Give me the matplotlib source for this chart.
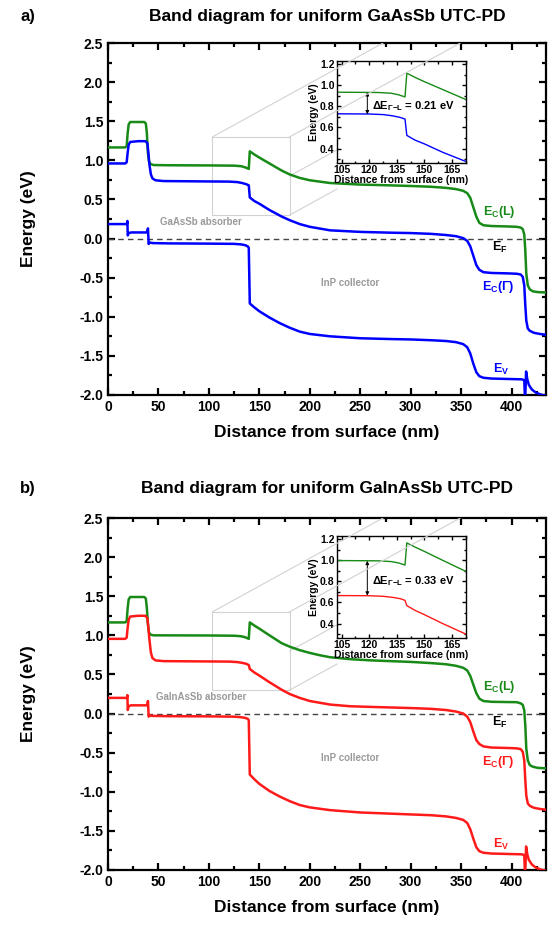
import matplotlib
matplotlib.use('Agg')
import matplotlib.pyplot as plt
from matplotlib.ticker import MultipleLocator

plt.rcParams['font.family'] = ['Liberation Sans', 'DejaVu Sans']
plt.rcParams['font.weight'] = 'bold'
plt.rcParams['mathtext.fontset'] = 'custom'
plt.rcParams['mathtext.rm'] = 'Liberation Sans:bold'
plt.rcParams['mathtext.it'] = 'Liberation Sans:bold'
plt.rcParams['mathtext.bf'] = 'Liberation Sans:bold'

# ---------------- panel a: GaAsSb ----------------
a_ecl_x = [0, 17, 18.5, 19.5, 20.5, 22, 36, 37.5, 38.5, 39.5, 40.5, 42, 45, 60, 100, 125, 132, 136, 139.5,
           140.5, 145, 150, 160, 172, 180, 190, 200, 220, 250, 280, 300, 320, 335, 345, 352, 356, 359, 362,
           365, 368, 372, 380, 395, 405, 409, 411, 412.5, 413.5, 414.5, 416, 418, 421, 426, 434]
a_ecl_e = [1.165, 1.165, 1.18, 1.35, 1.46, 1.49, 1.49, 1.47, 1.35, 1.1, 0.99, 0.955, 0.94, 0.937, 0.935, 0.932,
           0.925, 0.91, 0.89, 1.115, 1.075, 1.035, 0.96, 0.87, 0.82, 0.775, 0.745, 0.71, 0.69, 0.68, 0.672,
           0.662, 0.648, 0.632, 0.61, 0.58, 0.52, 0.40, 0.28, 0.20, 0.17, 0.16, 0.155, 0.15, 0.14, 0.12, 0.05,
           -0.15, -0.45, -0.6, -0.65, -0.675, -0.685, -0.69]

a_ecg_x = [0, 17, 18.5, 19.5, 20.5, 22, 30, 37, 39, 40, 41, 42.5, 44, 47, 55, 100, 120, 128, 133, 137, 139.5,
           140.5, 145, 150, 160, 172, 180, 190, 200, 220, 250, 280, 300, 320, 335, 345, 352, 356, 359, 362,
           365, 368, 372, 380, 395, 405, 409, 411, 412.5, 413.5, 414.5, 416, 418, 422, 428, 434]
a_ecg_e = [0.96, 0.96, 0.975, 1.1, 1.2, 1.235, 1.245, 1.245, 1.22, 1.1, 0.95, 0.82, 0.77, 0.745, 0.735, 0.73,
           0.728, 0.722, 0.71, 0.695, 0.68, 0.525, 0.48, 0.445, 0.365, 0.282, 0.235, 0.185, 0.15, 0.105, 0.085,
           0.075, 0.07, 0.06, 0.045, 0.03, 0.005, -0.03, -0.1, -0.22, -0.34, -0.40, -0.43, -0.44, -0.445,
           -0.45, -0.46, -0.49, -0.6, -0.85, -1.05, -1.15, -1.18, -1.205, -1.22, -1.23]

a_ev_x = [0, 18.8, 19.2, 19.6, 20.5, 23, 38.8, 39.6, 40.3, 41, 44, 60, 100, 125, 132, 136, 138.5, 139.5,
          140.5, 145, 150, 160, 170, 180, 190, 200, 220, 250, 280, 300, 320, 335, 345, 352, 356, 359, 362,
          365, 368, 372, 380, 395, 410, 412.5, 413.3, 414.3, 415.5, 417, 420, 424, 430, 434]
a_ev_e = [0.185, 0.185, 0.225, 0.04, 0.07, 0.078, 0.078, 0.13, -0.07, -0.05, -0.058, -0.062, -0.065, -0.068,
          -0.075, -0.085, -0.1, -0.12, -0.83, -0.88, -0.93, -1.01, -1.08, -1.14, -1.19, -1.22, -1.25, -1.275,
          -1.285, -1.29, -1.30, -1.31, -1.325, -1.35, -1.39, -1.47, -1.6, -1.71, -1.76, -1.78, -1.79, -1.795,
          -1.80, -1.81, -2.1, -1.70, -1.80, -1.87, -1.93, -1.97, -2.0, -2.01]

# ---------------- panel b: GaInAsSb ----------------
b_ecl_x = [0, 17, 18.5, 19.5, 20.5, 22, 36, 37.5, 38.5, 39.5, 40.5, 42, 45, 100, 125, 132, 136, 139.5,
           140.5, 145, 150, 160, 172, 180, 190, 200, 210, 220, 240, 260, 300, 320, 335, 345, 352, 356, 359,
           362, 365, 368, 372, 380, 405, 409, 411, 412.5, 413.5, 414.5, 416, 418, 421, 426, 434]
b_ecl_e = [1.165, 1.165, 1.18, 1.35, 1.46, 1.49, 1.49, 1.47, 1.35, 1.15, 1.04, 1.01, 1.0, 0.998, 0.995, 0.988,
           0.975, 0.955, 1.165, 1.125, 1.085, 1.0, 0.9, 0.855, 0.81, 0.775, 0.745, 0.72, 0.695, 0.68, 0.66,
           0.645, 0.63, 0.61, 0.585, 0.55, 0.48, 0.37, 0.26, 0.19, 0.16, 0.15, 0.145, 0.13, 0.11, 0.04, -0.15,
           -0.45, -0.6, -0.66, -0.68, -0.695, -0.70]

b_ecg_x = [0, 17, 18.5, 19.5, 20.5, 22, 30, 37, 39, 40, 41, 42.5, 44, 47, 55, 100, 120, 128, 133, 137, 139.5,
           140.5, 145, 150, 160, 172, 180, 190, 200, 220, 240, 260, 300, 320, 335, 345, 352, 356, 359, 362,
           365, 368, 372, 380, 395, 405, 409, 411, 412.5, 413.5, 414.5, 416, 418, 422, 428, 434]
b_ecg_e = [0.955, 0.955, 0.97, 1.1, 1.2, 1.24, 1.25, 1.25, 1.22, 1.1, 0.95, 0.78, 0.71, 0.68, 0.67, 0.666,
           0.664, 0.658, 0.648, 0.636, 0.62, 0.57, 0.525, 0.485, 0.40, 0.305, 0.25, 0.20, 0.16, 0.115, 0.093,
           0.085, 0.07, 0.06, 0.045, 0.025, 0.0, -0.04, -0.11, -0.23, -0.34, -0.39, -0.42, -0.435, -0.44,
           -0.445, -0.455, -0.49, -0.6, -0.85, -1.05, -1.15, -1.18, -1.205, -1.22, -1.23]

b_ev_x = [0, 18.8, 19.2, 19.6, 20.5, 23, 38.8, 39.6, 40.3, 41, 44, 60, 100, 125, 132, 136, 138.5, 139.5,
          140.5, 145, 150, 160, 170, 180, 190, 200, 220, 250, 280, 300, 320, 335, 345, 352, 356, 359, 362,
          365, 368, 372, 380, 395, 410, 412.5, 413.3, 414.3, 415.5, 417, 420, 424, 430, 434]
b_ev_e = [0.20, 0.20, 0.235, 0.045, 0.095, 0.105, 0.105, 0.16, -0.04, -0.025, -0.03, -0.034, -0.036, -0.04,
          -0.047, -0.056, -0.068, -0.085, -0.78, -0.84, -0.90, -0.99, -1.06, -1.12, -1.17, -1.20, -1.235,
          -1.265, -1.28, -1.29, -1.30, -1.315, -1.335, -1.36, -1.40, -1.48, -1.6, -1.71, -1.76, -1.78, -1.79,
          -1.795, -1.80, -1.81, -2.1, -1.70, -1.80, -1.87, -1.93, -1.97, -2.0, -2.01]

titles = ['Band diagram for uniform GaAsSb UTC-PD', 'Band diagram for uniform GaInAsSb UTC-PD']
panel_tags = ['a)', 'b)']
absorbers = ['GaAsSb absorber', 'GaInAsSb absorber']
gaps = ['0.21', '0.33']
gap_ends = [(0.725, 0.935), (0.665, 0.995)]

GREEN = '#178a17'
fig = plt.figure(figsize=(5.59, 9.25), dpi=100)


def style_axes(ax, size, major_len, minor_len, width):
    ax.tick_params(which='both', direction='in', top=True, right=True, labelsize=size, width=width)
    ax.tick_params(which='major', length=major_len)
    ax.tick_params(which='minor', length=minor_len)
    for s in ax.spines.values():
        s.set_linewidth(width)


def draw_panel(ax, ecl, ecg, ev, gcol, title, tag, absorber, gap, gend, ytop):
    ax.plot(*ecl, color=GREEN, lw=1.8, zorder=3)
    ax.plot(*ecg, color=gcol, lw=1.8, zorder=3)
    ax.plot(*ev, color=gcol, lw=1.8, zorder=3)
    ax.axhline(0, color='#444444', lw=1.0, ls=(0, (4, 3)), zorder=2)
    ax.set_xlim(0, 434)
    ax.set_ylim(-2.0, 2.5)
    ax.xaxis.set_major_locator(MultipleLocator(50))
    ax.xaxis.set_minor_locator(MultipleLocator(25))
    ax.yaxis.set_major_locator(MultipleLocator(0.5))
    ax.yaxis.set_minor_locator(MultipleLocator(0.25))
    ax.yaxis.set_major_formatter(lambda v, p: f'{v:.1f}')
    style_axes(ax, 10, 5, 3, 1.6)
    ax.set_xlabel('Distance from surface (nm)', fontsize=12.5, fontweight='bold')
    ax.set_ylabel('Energy (eV)', fontsize=12.5, fontweight='bold')
    ax.xaxis.set_label_coords(0.5, -0.085)
    ax.yaxis.set_label_coords(-0.165, 0.5)
    fig.text(0.585, ytop, title, ha='center', va='center', fontsize=12.5, fontweight='bold')
    fig.text(0.036, ytop, tag, ha='left', va='center', fontsize=12, fontweight='bold')

    # band labels
    ax.text(388, 0.34, r'E$_\mathrm{C}$(L)', color=GREEN, fontsize=9, ha='center', va='center')
    ax.text(388, -0.11, r'E$_\mathrm{F}$', color='black', fontsize=9, ha='center', va='center')
    ax.text(387, -0.62, r'E$_\mathrm{C}$($\Gamma$)', color=gcol, fontsize=9, ha='center', va='center')
    ax.text(390, -1.67, r'E$_\mathrm{V}$', color=gcol, fontsize=9, ha='center', va='center')
    ax.text(92, 0.21, absorber, color='#9a9a9a', fontsize=7, ha='center', va='center')
    ax.text(240, -0.565, 'InP collector', color='#9a9a9a', fontsize=7, ha='center', va='center')

    # zoom box (3D-looking guide) in light grey
    bx0, bx1, by0, by1 = 103.5, 180, 0.30, 1.30
    slope = 0.0071          # eV per nm along the receding edges
    ins_left = 227
    gl = dict(color='#d2d2d2', lw=0.8)
    ax.plot([bx0, bx1, bx1, bx0, bx0], [by0, by0, by1, by1, by0], zorder=1, **gl)
    for cx, cy in [(bx0, by1), (bx1, by1)]:
        ax.plot([cx, cx + 300], [cy, cy + 300 * slope], zorder=6, **gl)
    for cy in [by0, (by0 + by1) / 2]:
        ax.plot([bx1, ins_left], [cy, cy + (ins_left - bx1) * slope], zorder=1, **gl)

    # inset
    ins = ax.inset_axes([0.522, 0.659, 0.295, 0.29])
    ins.set_facecolor('white')
    ins.set_zorder(5)
    ins.plot(*ecl, color=GREEN, lw=1.0)
    ins.plot(*ecg, color=gcol, lw=1.0)
    ins.set_xlim(102.3, 172.6)
    ins.set_ylim(0.263, 1.231)
    ins.xaxis.set_major_locator(MultipleLocator(15))
    ins.xaxis.set_minor_locator(MultipleLocator(7.5))
    ins.yaxis.set_major_locator(MultipleLocator(0.2))
    ins.yaxis.set_minor_locator(MultipleLocator(0.1))
    ins.yaxis.set_major_formatter(lambda v, p: f'{v:.1f}')
    style_axes(ins, 7.5, 3, 1.8, 1.0)
    ins.tick_params(pad=1.5)
    ins.set_xlabel('Distance from surface (nm)', fontsize=7.5, fontweight='bold', labelpad=0)
    ins.set_ylabel('Energy (eV)', fontsize=7.5, fontweight='bold', labelpad=1)
    ins.annotate('', xy=(119, gend[0]), xytext=(119, gend[1]),
                 arrowprops=dict(arrowstyle='<|-|>', lw=0.7, color='black', shrinkA=0, shrinkB=0,
                                 mutation_scale=5))
    ins.text(121.5, 0.80, r'$\Delta$E$_{\Gamma\mathrm{-L}}$ = ' + gap + ' eV', fontsize=8, ha='left',
             va='center')


ax_a = fig.add_axes([0.1932, 0.573, 0.7835, 0.3805])
ax_b = fig.add_axes([0.1932, 0.0595, 0.7835, 0.3805])
draw_panel(ax_a, (a_ecl_x, a_ecl_e), (a_ecg_x, a_ecg_e), (a_ev_x, a_ev_e), '#0000ff',
           titles[0], panel_tags[0], absorbers[0], gaps[0], gap_ends[0], 1 - 16 / 925)
draw_panel(ax_b, (b_ecl_x, b_ecl_e), (b_ecg_x, b_ecg_e), (b_ev_x, b_ev_e), '#ff1a1a',
           titles[1], panel_tags[1], absorbers[1], gaps[1], gap_ends[1], 1 - 488 / 925)

fig.savefig('out.png', dpi=100)
